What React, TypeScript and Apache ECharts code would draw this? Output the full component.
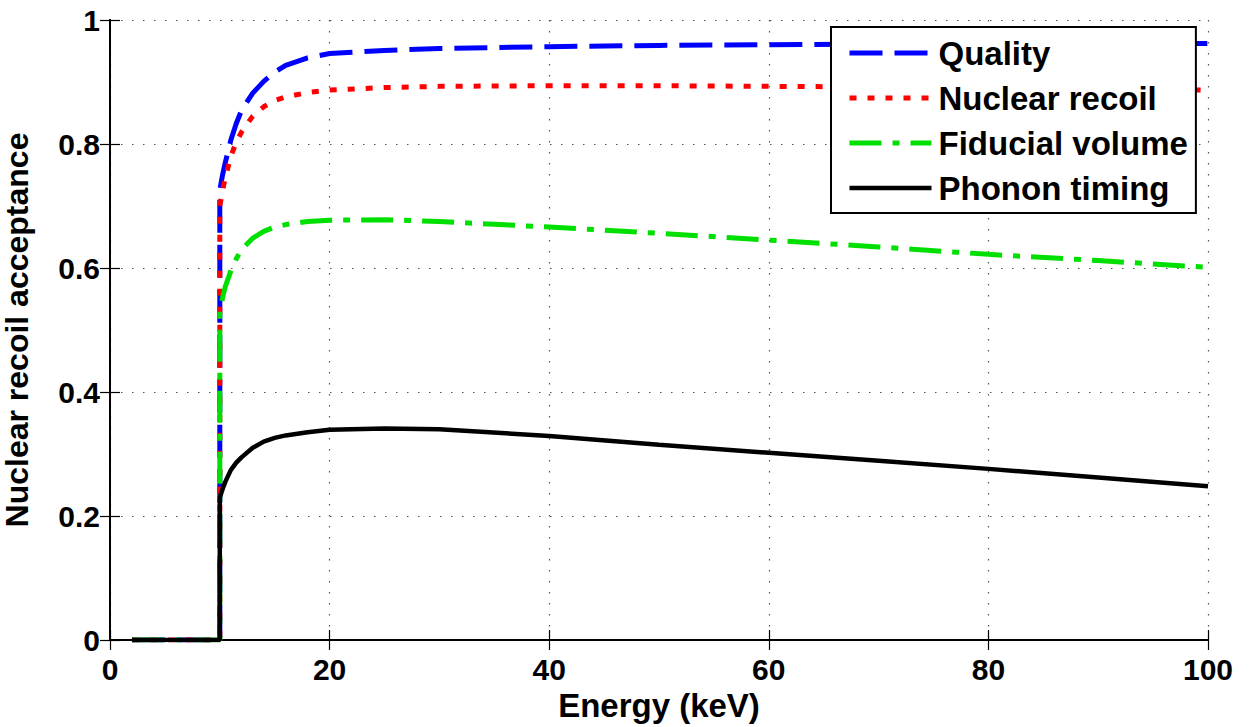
import React, { useEffect, useRef } from "react";
import * as echarts from "echarts";

const seriesNames = ["Quality", "Nuclear recoil", "Fiducial volume", "Phonon timing"];
const energy = [2, 10, 10, 10.25, 10.5, 11, 11.5, 12, 13, 14, 15, 16, 18, 20, 25, 30, 40, 50, 60, 70, 80, 90, 100];
const quality = [0, 0, 0.726, 0.75, 0.77, 0.806, 0.833, 0.855, 0.882, 0.901, 0.916, 0.927, 0.939, 0.946, 0.951, 0.954, 0.957, 0.959, 0.960, 0.961, 0.962, 0.962, 0.962];
const nuclearRecoil = [0, 0, 0.70, 0.725, 0.745, 0.78, 0.803, 0.82, 0.845, 0.86, 0.87, 0.876, 0.883, 0.887, 0.891, 0.893, 0.894, 0.894, 0.893, 0.892, 0.891, 0.889, 0.887];
const fiducialVolume = [0, 0, 0.53, 0.552, 0.57, 0.595, 0.615, 0.63, 0.648, 0.659, 0.666, 0.670, 0.675, 0.677, 0.678, 0.675, 0.666, 0.656, 0.645, 0.634, 0.622, 0.612, 0.601];
const phononTiming = [0, 0, 0.23, 0.243, 0.255, 0.274, 0.286, 0.295, 0.31, 0.32, 0.326, 0.330, 0.335, 0.339, 0.341, 0.340, 0.329, 0.315, 0.302, 0.289, 0.276, 0.262, 0.248];
const xTicks = [0, 20, 40, 60, 80, 100];
const yTicks = [0, 0.2, 0.4, 0.6, 0.8, 1];

const FONT = "'Liberation Sans', Helvetica, Arial, sans-serif";

export default function App() {
  const ref = useRef<HTMLDivElement>(null);
  useEffect(() => {
    if (!ref.current) return;
    const chart = echarts.init(ref.current, undefined, { renderer: "svg" });
    const mk = (vals: number[]) => energy.map((e, i) => [e, vals[i]]);
    const styles: any[] = [
      { color: "#0000ff", type: [33, 12], width: 5 },
      { color: "#ff0000", type: [7, 11], width: 5 },
      { color: "#00e000", type: [32, 11, 7, 11], width: 5 },
      { color: "#000000", type: "solid", width: 4.5 },
    ];
    const datas = [quality, nuclearRecoil, fiducialVolume, phononTiming];
    const splitLine = { show: true, lineStyle: { color: "#555", type: [1.5, 9.5], width: 1.2 } };
    const tickLabel = { color: "#000", fontFamily: FONT, fontWeight: "bold", fontSize: 30 };
    const axisLine = { show: true, lineStyle: { color: "#000", width: 2 } };
    const axisTick = { show: true, inside: true, length: 10, lineStyle: { color: "#000", width: 1.2 } };
    chart.setOption({
      animation: false,
      backgroundColor: "#fff",
      grid: { left: 110, right: 41, top: 20, bottom: 87, containLabel: false, outerBoundsMode: "none" },
      legend: {
        orient: "vertical",
        left: 831,
        top: 27,
        padding: [8, 8, 7, 16],
        itemWidth: 82,
        itemHeight: 14,
        itemGap: 9,
        backgroundColor: "#fff",
        borderColor: "#000",
        borderWidth: 2,
        borderRadius: 0,
        textStyle: { color: "#000", fontFamily: FONT, fontWeight: "bold", fontSize: 33, lineHeight: 36, padding: [0, 0, 0, 2] },
        data: seriesNames.map((name, i) => ({
          name,
          itemStyle: { opacity: 0 },
          lineStyle: { color: styles[i].color, type: styles[i].type, width: styles[i].width },
        })),
      },
      xAxis: [
        {
          type: "value", min: 0, max: 100, interval: 20,
          name: "Energy (keV)", nameLocation: "middle", nameGap: 48,
          nameTextStyle: { color: "#000", fontFamily: FONT, fontWeight: "bold", fontSize: 33 },
          axisLine, axisTick, splitLine,
          axisLabel: { ...tickLabel, margin: 14, formatter: (v: number) => (xTicks.includes(v) ? String(v) : "") },
        },
        {
          type: "value", min: 0, max: 100, interval: 20, position: "top",
          axisLine, axisTick, axisLabel: { show: false }, splitLine: { show: false },
        },
      ],
      yAxis: [
        {
          type: "value", min: 0, max: 1, interval: 0.2,
          name: "Nuclear recoil acceptance", nameLocation: "middle", nameGap: 77,
          nameTextStyle: { color: "#000", fontFamily: FONT, fontWeight: "bold", fontSize: 32 },
          axisLine, axisTick, splitLine,
          axisLabel: {
            ...tickLabel, margin: 10,
            formatter: (v: number) => {
              const t = yTicks.find((y) => Math.abs(y - v) < 1e-9);
              return t === undefined ? "" : t === 0 || t === 1 ? String(t) : t.toFixed(1);
            },
          },
        },
        {
          type: "value", min: 0, max: 1, interval: 0.2, position: "right",
          axisLine, axisTick, axisLabel: { show: false }, splitLine: { show: false },
        },
      ],
      series: seriesNames.map((name, i) => ({
        name,
        type: "line",
        xAxisIndex: 0,
        yAxisIndex: 0,
        data: mk(datas[i]),
        symbol: "none",
        showSymbol: false,
        smooth: false,
        lineStyle: styles[i],
        itemStyle: { color: styles[i].color },
        z: 2 + i,
      })),
    });
    return () => chart.dispose();
  }, []);
  return <div ref={ref} style={{ position: "fixed", left: 0, top: 0, width: 1249, height: 727 }} />;
}
